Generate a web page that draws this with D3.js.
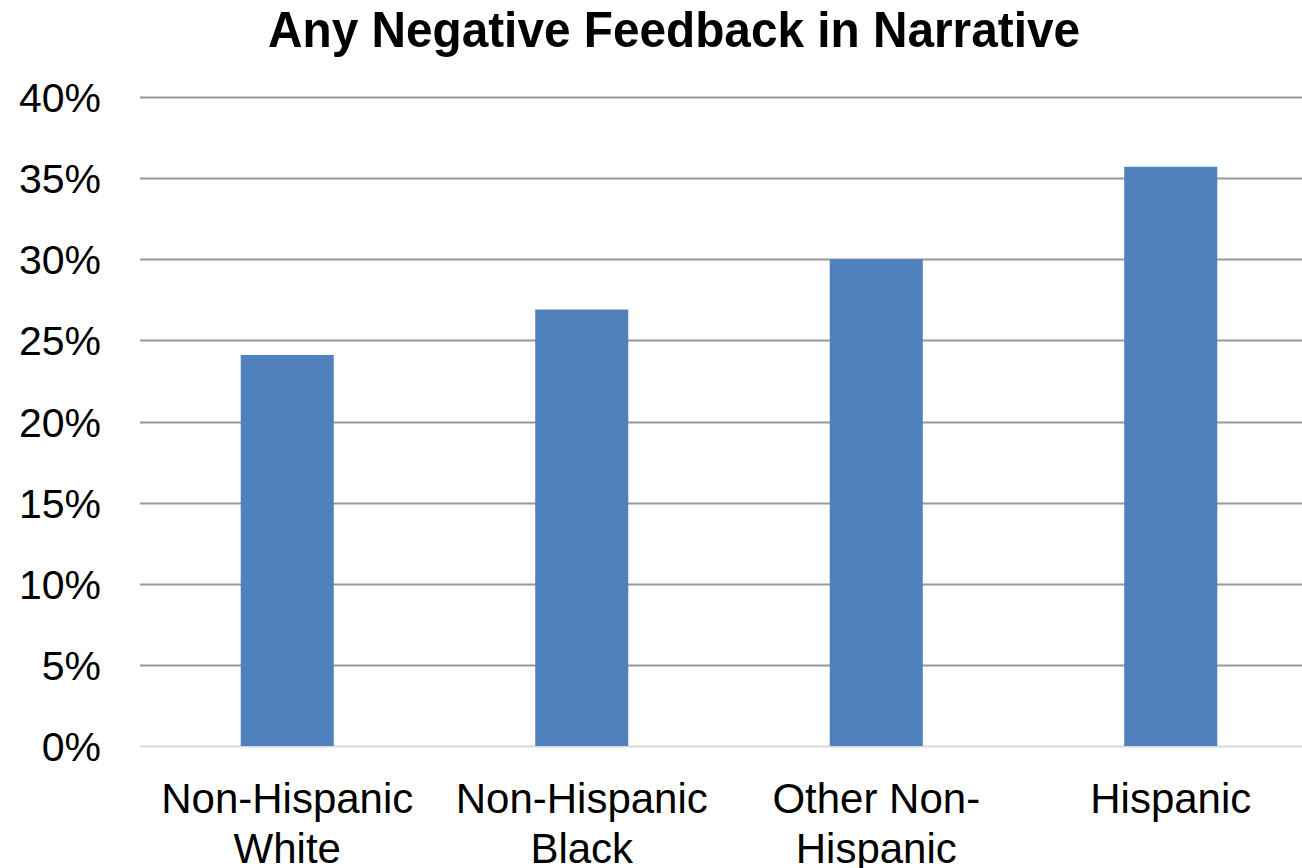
<!DOCTYPE html>
<html>
<head>
<meta charset="utf-8">
<script src="https://cdn.jsdelivr.net/npm/d3@7"></script>
<style>
  html, body { margin: 0; padding: 0; background: #fff; }
  svg { display: block; font-family: "Liberation Sans", Arial, sans-serif; }
</style>
</head>
<body>
<script>
// Data
var categories = [["Non-Hispanic", "White"], ["Non-Hispanic", "Black"], ["Other Non-", "Hispanic"], ["Hispanic"]];
var values = [24.1, 26.9, 30.0, 35.7];
var yTicks = [0, 5, 10, 15, 20, 25, 30, 35, 40];

var width = 1302, height = 868;
var margin = { left: 140, right: -16, top: 97, bottom: 122 };

var svg = d3.select("body").append("svg")
    .attr("width", width)
    .attr("height", height);

var x = d3.scaleBand()
    .domain(d3.range(categories.length))
    .range([margin.left, width - margin.right])
    .paddingInner(0.684)
    .paddingOuter(0.342);

var y = d3.scaleLinear()
    .domain([0, 40])
    .range([height - margin.bottom, margin.top]);

// Title (slightly condensed bold face in the original)
svg.append("text")
    .attr("x", 674)
    .attr("y", 47)
    .attr("text-anchor", "middle")
    .attr("font-weight", "bold")
    .attr("font-size", 50)
    .attr("textLength", 812)
    .attr("lengthAdjust", "spacingAndGlyphs")
    .text("Any Negative Feedback in Narrative");

// Gridlines
svg.append("g")
    .selectAll("line")
    .data(yTicks)
    .enter().append("line")
    .attr("x1", margin.left)
    .attr("x2", width)
    .attr("y1", d => Math.round(y(d)) + 0.5)
    .attr("y2", d => Math.round(y(d)) + 0.5)
    .attr("stroke", d => d === 0 ? "#d9d9d9" : "#989898")
    .attr("stroke-width", 2);

// Y tick labels
svg.append("g")
    .selectAll("text")
    .data(yTicks)
    .enter().append("text")
    .attr("x", 101)
    .attr("y", d => y(d) + 15)
    .attr("text-anchor", "end")
    .attr("font-size", 41)
    .text(d => d + "%");

// Bars
svg.append("g")
    .selectAll("rect")
    .data(values)
    .enter().append("rect")
    .attr("x", (d, i) => x(i))
    .attr("y", d => y(d))
    .attr("width", x.bandwidth())
    .attr("height", d => y(0) - y(d))
    .attr("fill", "#4f81bd");

// Category labels
var labels = svg.append("g")
    .selectAll("text")
    .data(categories)
    .enter().append("text")
    .attr("text-anchor", "middle")
    .attr("font-size", 42)
    .attr("transform", (d, i) => "translate(" + (x(i) + x.bandwidth() / 2) + ",0)");

labels.selectAll("tspan")
    .data(d => d)
    .enter().append("tspan")
    .attr("x", 0)
    .attr("y", (d, i) => 813 + i * 50)
    .text(d => d);
</script>
</body>
</html>
